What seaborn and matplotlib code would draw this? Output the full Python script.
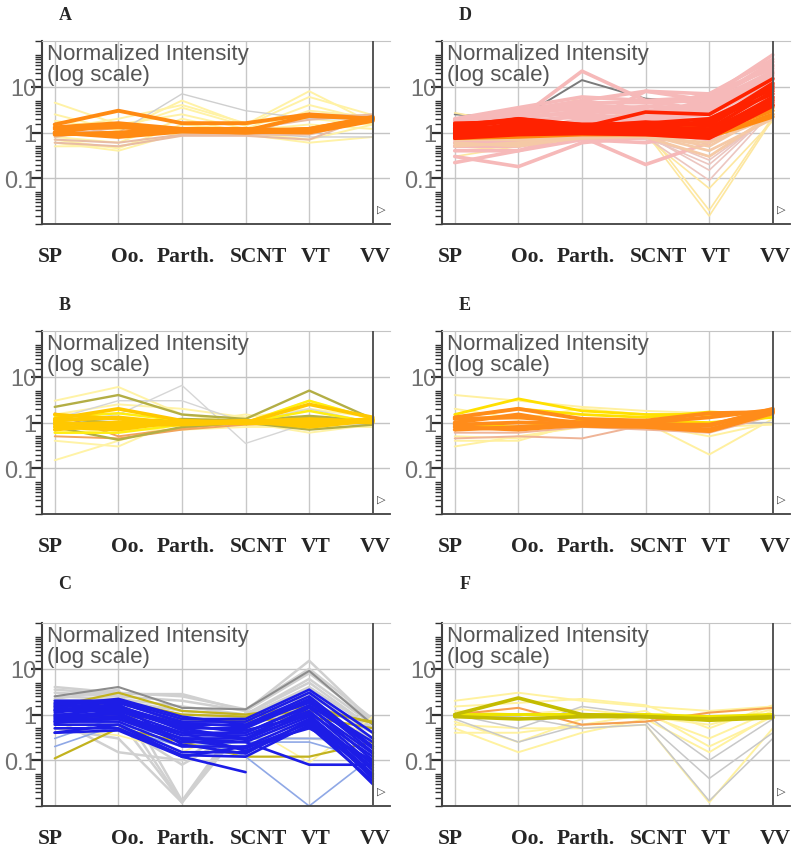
import numpy as np
import pandas as pd
import seaborn as sns
import matplotlib.pyplot as plt
import matplotlib.transforms as mtransforms
from matplotlib.ticker import LogLocator, FixedLocator, FixedFormatter, NullFormatter

sns.set_style('white')
plt.rcParams['font.family'] = ['Liberation Sans', 'DejaVu Sans']

stages = ['SP', 'Oo.', 'Parth.', 'SCNT', 'VT', 'VV']
ytick_vals = [0.1, 1, 10]
ytick_text = ['0.1', '1', '10']

# ---- panel A ----
A_pale = [[2.5, 1.1, 5.0, 1.5, 8.0, 1.6], [1.8, 1.2, 3.5, 1.4, 6.0, 2.4], [0.6, 0.4, 1.0, 1.0, 0.7, 1.5],
          [0.5, 0.5, 0.9, 0.9, 0.6, 0.8], [0.8, 0.6, 2.0, 1.0, 3.0, 2.2], [4.5, 1.5, 2.5, 1.2, 4.0, 1.8],
          [0.7, 0.45, 1.5, 1.1, 1.5, 1.2], [1.2, 2.0, 4.0, 1.6, 2.0, 1.5]]
A_gray = [[1.0, 1.0, 7.0, 3.0, 2.0, 2.0], [1.0, 1.0, 1.0, 1.0, 0.8, 0.8]]
A_beige = [[0.7, 0.6, 0.9, 0.9, 0.9, 2.0], [0.8, 1.3, 1.0, 0.9, 2.5, 2.3], [0.6, 0.5, 0.85, 0.85, 0.7, 2.4],
           [1.1, 1.0, 1.1, 1.2, 1.9, 2.5]]
A_orange = [[1.5, 3.0, 1.6, 1.6, 2.5, 2.0], [1.0, 1.5, 1.1, 1.1, 1.2, 2.1], [1.0, 0.8, 1.05, 1.0, 1.1, 2.0],
            [1.2, 1.3, 1.1, 1.0, 1.2, 2.2], [0.9, 1.0, 1.2, 1.1, 2.3, 2.0], [1.3, 1.6, 1.2, 1.2, 1.1, 1.9],
            [0.95, 0.9, 1.15, 1.05, 1.0, 1.8]]

# ---- panel D ----
D_gray = [[2.5, 2.0, 14, 5.5, 4.5, 8.0]]
D_pale = [[0.5, 0.4, 0.8, 1.0, 0.015, 2.0], [2.7, 1.5, 6.0, 1.2, 0.02, 2.2], [0.3, 0.5, 0.9, 0.8, 0.06, 1.8]]
D_lowpink = [[0.8, 0.9, 1.0, 0.8, 0.09, 3], [0.9, 1.0, 1.0, 0.9, 0.15, 3], [1.0, 1.0, 1.1, 0.9, 0.25, 2.5],
             [0.7, 0.8, 0.9, 0.8, 0.2, 2.8], [0.6, 0.7, 0.8, 0.7, 0.3, 2.2]]
D_pink = [[2.0, 3.5, 6.0, 5.0, 6.0, 50], [1.8, 3.0, 5.0, 8.0, 5.0, 30], [1.5, 2.8, 4.0, 3.5, 7.0, 40],
          [1.2, 2.5, 3.5, 3.0, 4.0, 20], [1.0, 2.0, 3.0, 2.5, 3.0, 15], [0.8, 1.5, 2.5, 2.0, 2.5, 12],
          [0.6, 1.0, 2.0, 1.8, 2.0, 10], [0.5, 0.6, 1.5, 1.5, 1.5, 8], [0.4, 0.4, 1.0, 1.2, 1.2, 6],
          [1.0, 2.0, 22, 5.0, 3.0, 20], [0.22, 0.4, 0.7, 0.6, 1.0, 5], [0.3, 0.18, 0.6, 0.8, 0.9, 4],
          [0.6, 0.6, 0.8, 0.2, 0.6, 6], [1.2, 1.5, 1.5, 8.0, 7.0, 25],
          [1.6, 2.2, 2.8, 3.0, 3.5, 18], [1.3, 1.8, 2.2, 2.3, 2.5, 14], [0.9, 1.2, 1.8, 1.6, 1.8, 9],
          [0.7, 0.8, 1.3, 1.3, 1.0, 7], [1.4, 2.5, 4.5, 4.5, 5.0, 35], [0.5, 0.5, 0.9, 1.0, 0.7, 5],
          [1.7, 3.2, 3.2, 2.8, 4.5, 22], [1.1, 2.2, 2.6, 3.8, 3.2, 16], [1.9, 2.6, 3.8, 2.2, 5.5, 28]]
D_beige = [[0.6, 0.5, 0.8, 0.9, 0.5, 3.0], [0.5, 0.6, 0.9, 0.8, 0.3, 2.5], [0.7, 0.7, 0.8, 0.9, 0.4, 2.0],
           [0.55, 0.55, 0.75, 0.8, 0.6, 2.3]]
D_orange = [[0.8, 0.9, 1.0, 0.95, 0.85, 2.5], [0.9, 1.1, 1.0, 1.0, 1.0, 3.0], [1.0, 1.2, 1.1, 1.1, 1.1, 3.5],
            [0.75, 0.8, 0.9, 0.9, 0.8, 2.2], [1.1, 1.4, 1.2, 1.2, 1.3, 4.0]]
D_red = [[1.0, 1.5, 1.2, 1.1, 1.0, 6], [1.2, 2.0, 1.4, 1.3, 1.2, 8], [0.9, 1.2, 1.1, 1.0, 0.9, 5],
         [1.3, 1.8, 1.5, 1.4, 1.5, 10], [1.5, 1.9, 1.4, 1.5, 1.6, 12], [1.1, 1.3, 1.3, 2.8, 2.5, 15],
         [0.8, 1.0, 1.0, 1.1, 0.8, 4], [1.4, 2.0, 1.5, 1.6, 2.0, 9], [1.0, 1.6, 1.3, 1.2, 1.8, 7],
         [1.2, 1.4, 1.2, 1.3, 1.1, 5.5], [0.85, 1.1, 1.05, 1.0, 0.95, 4.5], [0.75, 0.9, 0.95, 0.9, 0.75, 3.8],
         [1.6, 1.7, 1.35, 1.7, 1.4, 11]]

# ---- panel B ----
B_pale = [[0.15, 0.4, 1.0, 1.5, 1.0, 1.0], [3.0, 6.0, 1.5, 1.0, 3.0, 1.2], [0.4, 0.3, 1.2, 1.0, 0.6, 0.9],
          [1.5, 2.5, 2.0, 1.3, 2.0, 1.3], [0.6, 0.7, 0.7, 0.8, 0.8, 0.8]]
B_gray = [[1.0, 1.5, 6.5, 0.35, 1.0, 0.9], [1.2, 3.0, 3.0, 1.0, 2.0, 1.0]]
B_orange = [[1.6, 0.5, 0.75, 1.0, 0.9, 1.1], [0.5, 0.45, 0.7, 0.9, 1.0, 1.0]]
B_olive = [[2.2, 4.0, 1.5, 1.2, 5.0, 1.2], [0.8, 0.42, 0.8, 1.0, 1.3, 1.0], [1.0, 0.75, 1.1, 1.0, 0.7, 0.9],
           [1.2, 1.0, 1.2, 1.1, 1.4, 1.1]]
B_yellow = [[1.3, 1.6, 1.1, 1.0, 3.0, 1.2], [0.6, 0.6, 0.9, 1.0, 1.8, 1.0]]
B_gold = [[1.5, 1.2, 1.0, 1.0, 1.0, 1.2], [1.0, 0.8, 1.0, 1.0, 0.9, 1.1], [0.7, 0.9, 0.9, 1.0, 1.1, 1.0],
          [1.2, 2.0, 1.1, 1.0, 2.5, 1.3], [0.9, 1.0, 1.0, 1.1, 0.8, 1.1], [0.8, 0.7, 1.05, 0.95, 1.0, 1.15],
          [1.1, 1.3, 0.95, 1.05, 1.2, 1.05]]

# ---- panel E ----
E_pale = [[4.0, 3.0, 2.2, 1.8, 1.6, 1.4], [0.3, 0.5, 0.8, 1.0, 0.2, 1.2], [0.5, 0.45, 0.9, 0.9, 0.5, 1.0],
          [2.0, 1.2, 2.0, 1.5, 1.5, 1.6], [0.4, 0.4, 1.0, 1.0, 0.8, 0.9]]
E_gray = [[0.9, 1.0, 1.0, 1.0, 1.0, 1.0]]
E_beige = [[0.45, 0.5, 0.45, 0.9, 0.8, 1.5], [0.6, 0.6, 0.8, 0.7, 0.6, 1.4]]
E_yellow = [[1.5, 3.3, 1.8, 1.5, 1.5, 1.6], [1.3, 2.0, 1.5, 1.3, 1.7, 1.5], [0.9, 0.8, 1.1, 1.1, 1.0, 1.3]]
E_orange = [[1.0, 1.5, 0.9, 0.9, 0.9, 1.8], [0.8, 0.7, 0.9, 0.9, 0.7, 1.7], [1.2, 1.3, 1.0, 1.0, 1.3, 1.9],
            [0.7, 0.8, 0.85, 0.8, 0.65, 1.6], [1.3, 2.0, 1.2, 1.1, 1.6, 1.7], [0.9, 1.0, 0.95, 0.95, 0.85, 2.0]]

# ---- panel C ----
C_gray = [[4.0, 3.0, 2.5, 1.3, 10, 0.8], [3.0, 2.5, 2.0, 1.2, 8, 0.7], [2.5, 2.2, 1.5, 1.0, 6, 0.6],
          [2.0, 2.0, 1.2, 1.0, 5, 0.5], [1.5, 1.8, 1.0, 0.9, 4, 0.5], [1.2, 1.5, 0.012, 0.9, 3, 0.4],
          [1.0, 0.8, 0.012, 0.8, 2, 0.4], [0.5, 0.3, 0.012, 0.6, 1.5, 0.3], [0.8, 0.15, 0.1, 0.7, 1.2, 0.3],
          [2.2, 3.5, 0.013, 1.1, 2.5, 0.5], [0.6, 0.6, 0.08, 0.5, 0.5, 0.3], [3.5, 2.8, 2.8, 1.2, 15, 0.7],
          [1.8, 1.0, 0.3, 0.3, 0.3, 0.25]]
C_pale = [[0.5, 0.35, 0.15, 0.6, 0.09, 0.9]]
C_dark = [[2.5, 4.0, 1.4, 1.3, 9.0, 0.6]]
C_olive = [[1.5, 3.0, 1.2, 1.0, 1.5, 0.65], [1.2, 2.0, 1.0, 0.9, 1.2, 0.7], [0.11, 0.5, 0.25, 0.12, 0.12, 0.25],
           [0.9, 0.9, 0.8, 0.7, 0.9, 0.5]]
C_lightblue = [[0.3, 0.9, 0.4, 0.12, 0.01, 0.12], [0.2, 0.6, 0.3, 0.3, 0.3, 0.3], [0.5, 0.5, 0.2, 0.25, 0.25, 0.1]]
C_blue = [[2.0, 2.0, 0.8, 0.8, 3.5, 0.4], [1.8, 1.8, 0.7, 0.7, 3.0, 0.3], [1.5, 1.5, 0.6, 0.6, 2.5, 0.2],
          [1.3, 1.3, 0.5, 0.5, 2.0, 0.15], [1.2, 1.2, 0.4, 0.4, 1.5, 0.1], [1.0, 1.0, 0.35, 0.35, 1.2, 0.08],
          [0.9, 0.9, 0.3, 0.3, 1.0, 0.06], [0.8, 0.8, 0.25, 0.25, 0.9, 0.05], [0.7, 0.7, 0.2, 0.2, 0.8, 0.04],
          [0.6, 0.6, 0.15, 0.15, 0.7, 0.03], [0.5, 0.5, 0.13, 0.12, 0.6, 0.05], [0.4, 0.45, 0.12, 0.2, 0.5, 0.1],
          [1.6, 2.2, 0.9, 0.6, 1.8, 0.25], [1.1, 1.6, 0.45, 0.28, 1.1, 0.12], [0.95, 1.4, 0.55, 0.45, 0.95, 0.07],
          [0.75, 1.1, 0.28, 0.18, 0.65, 0.09], [0.65, 0.9, 0.4, 0.16, 0.55, 0.035], [1.4, 1.9, 0.65, 0.55, 2.2, 0.18],
          [0.4, 0.6, 0.12, 0.055, None, None], [0.7, 0.8, 0.3, 0.25, 0.08, 0.08],
          [1.7, 1.4, 0.5, 0.3, 1.4, 0.14], [0.85, 1.2, 0.6, 0.4, 1.6, 0.2], [1.25, 1.7, 0.22, 0.14, 0.75, 0.045]]

# ---- panel F ----
F_pale = [[2.0, 3.0, 2.0, 1.5, 1.2, 1.5], [0.5, 0.15, 0.4, 0.8, 0.15, 1.0], [0.6, 0.5, 0.5, 0.6, 0.012, 0.5],
          [0.4, 0.4, 0.6, 1.0, 0.3, 1.2], [1.5, 1.8, 2.2, 1.6, 0.5, 1.6], [0.7, 0.25, 0.8, 1.2, 0.2, 0.9],
          [1.2, 1.0, 1.3, 0.9, 0.6, 1.3]]
F_gray = [[0.8, 0.25, 0.6, 0.7, 0.04, 0.4], [0.9, 0.9, 0.5, 0.6, 0.013, 0.3], [1.0, 0.5, 1.5, 1.0, 0.1, 0.8]]
F_orange = [[1.0, 1.4, 0.6, 0.7, 1.1, 1.4]]
F_yellow = [[1.0, 1.0, 1.0, 1.0, 0.9, 1.0]]
F_olive = [[1.0, 2.3, 1.0, 0.9, 0.8, 0.9], [0.9, 0.8, 0.9, 0.9, 0.75, 0.85]]

# label nudges (px) as in the original figure
label_shift = [-4, 9, 4, 13, 6, 2]


def to_frame(profiles):
    rows = []
    for i, prof in enumerate(profiles):
        for j, v in enumerate(prof):
            if v is None:
                continue
            rows.append({'gene': i, 'stage': j, 'value': v})
    return pd.DataFrame(rows)


def draw_group(ax, profiles, color, lw):
    df = to_frame(profiles)
    sns.lineplot(data=df, x='stage', y='value', units='gene', estimator=None,
                 color=color, lw=lw, ax=ax, legend=False)


def style_axis(ax):
    ax.set_yscale('log')
    ax.set_xlim(-0.2, 5.27)
    ax.set_ylim(0.01, 100)
    ax.set_xlabel('')
    ax.set_ylabel('')
    for x in range(len(stages) - 1):
        ax.axvline(x, color='#c8c8c8', lw=1, zorder=0)
    ax.axvline(len(stages) - 1, color='#555555', lw=1.4, zorder=5)
    for y in [0.1, 1, 10]:
        ax.axhline(y, color='#c4c4c4', lw=1, zorder=0)
    ax.spines['right'].set_visible(False)
    ax.spines['top'].set_color('#c4c4c4')
    ax.spines['left'].set_color('#404040')
    ax.spines['left'].set_linewidth(1.5)
    ax.spines['bottom'].set_color('#404040')
    ax.spines['bottom'].set_linewidth(1.3)
    ax.set_xticks(range(len(stages)))
    ax.set_xticklabels(stages, family=['Liberation Serif'], fontweight='bold', fontsize=15.5)
    ax.tick_params(axis='x', length=6, width=1, color='#707070', pad=10)
    for lab, dx in zip(ax.get_xticklabels(), label_shift):
        lab.set_transform(lab.get_transform() + mtransforms.Affine2D().translate(dx, 0))
    ax.yaxis.set_major_locator(FixedLocator(ytick_vals))
    ax.yaxis.set_major_formatter(FixedFormatter(ytick_text))
    ax.yaxis.set_minor_locator(LogLocator(base=10, subs=np.arange(1, 10) * 0.5, numticks=30))
    ax.yaxis.set_minor_formatter(NullFormatter())
    ax.tick_params(axis='y', which='major', left=True, length=8, width=1.6, color='#303030',
                   labelsize=17, labelcolor='#707070', pad=-4)
    ax.tick_params(axis='y', which='minor', left=True, length=5, width=1.0, color='#303030')
    ax.text(0.014, 0.99, 'Normalized Intensity\n(log scale)', transform=ax.transAxes,
            ha='left', va='top', fontsize=16, color='#555555', linespacing=0.98, zorder=6)
    ax.text(0.962, 0.082, '\u25b7', transform=ax.transAxes, ha='left', va='center',
            fontsize=8, color='#404040', family=['DejaVu Sans'], zorder=6)


fig = plt.figure(figsize=(8, 8.53), dpi=100)

panels = [
    ('A', 0.0525, 0.7362, (65, 15), [(A_pale, '#fff2a6', 1.4), (A_gray, '#cfcfcf', 1.0),
                                    (A_beige, '#e8bca4', 1.5), (A_orange, '#ff8a12', 2.8)]),
    ('D', 0.5525, 0.7362, (465, 15), [(D_gray, '#7a7a7a', 1.4), (D_pale, '#fde7a0', 1.2),
                                     (D_lowpink, '#ecc6c0', 1.2), (D_pink, '#f6b9b9', 2.6),
                                     (D_beige, '#f5c9a6', 2.0), (D_orange, '#ff8a10', 2.6),
                                     (D_red, '#ff2200', 2.6)]),
    ('B', 0.0525, 0.3962, (65, 305), [(B_pale, '#fff3a6', 1.4), (B_gray, '#d6d6d6', 1.0),
                                     (B_orange, '#f2a45a', 1.4), (B_olive, '#b3ae45', 1.7),
                                     (B_yellow, '#ffee10', 1.8), (B_gold, '#ffc800', 2.6)]),
    ('E', 0.5525, 0.3962, (465, 305), [(E_pale, '#fff0a0', 1.4), (E_gray, '#bdbdbd', 1.0),
                                      (E_beige, '#efb497', 1.4), (E_yellow, '#ffe000', 2.0),
                                      (E_orange, '#ff8c1a', 2.8)]),
    ('C', 0.0525, 0.0539, (65, 585), [(C_gray, '#d0d0d0', 1.8), (C_pale, '#fff3a0', 1.2),
                                     (C_dark, '#8c8c8c', 1.5), (C_olive, '#c2b21e', 1.6),
                                     (C_lightblue, '#8fa8e6', 1.2), (C_blue, '#1d1de6', 1.9)]),
    ('F', 0.5525, 0.0539, (465, 585), [(F_pale, '#fff2a0', 1.4), (F_gray, '#c8c8c8', 1.1),
                                      (F_orange, '#f6a050', 1.5), (F_yellow, '#eee400', 2.2),
                                      (F_olive, '#c4bc00', 2.6)]),
]

for letter, left, bottom, (lx, ly), groups in panels:
    ax = fig.add_axes([left, bottom, 0.435, 0.2145])
    for profiles, color, lw in groups:
        draw_group(ax, profiles, color, lw)
    style_axis(ax)
    fig.text(lx / 800, 1 - ly / 853, letter, ha='center', va='center', fontsize=13,
             fontweight='bold', family=['Liberation Serif'])

fig.savefig('out.png', dpi=100)
